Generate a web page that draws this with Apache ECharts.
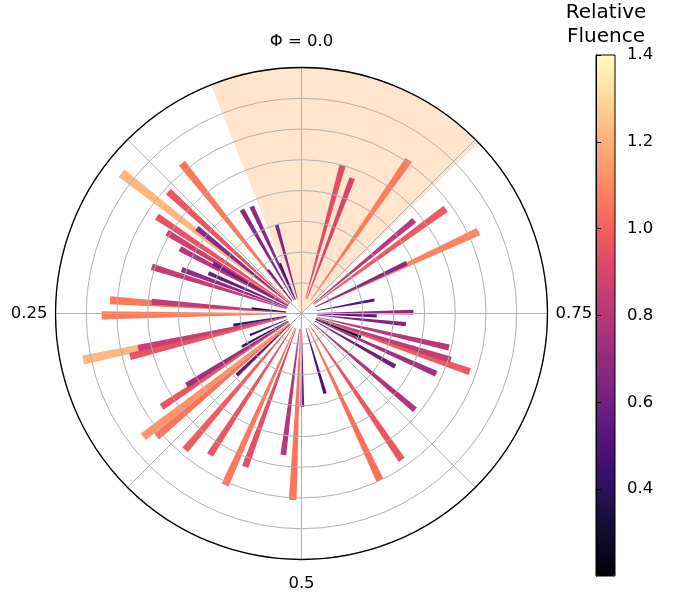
<!DOCTYPE html>
<html><head><meta charset="utf-8">
<script src="https://cdn.jsdelivr.net/npm/echarts@6/dist/echarts.min.js"></script>
<style>html,body{margin:0;padding:0;background:#fff}#c{width:684px;height:596px}</style>
</head><body><div id="c"></div><script>
// bar phase (0..1, counter-clockwise from top), bar outer radius, relative fluence
const phases = [
  0.1446, 0.107, 0.132, 0.156, 0.164, 0.172, 0.141, 0.202, 0.194, 0.168,
  0.185, 0.239, 0.2375, 0.2515, 0.233, 0.083, 0.0694, 0.0435, 0.0644, 0.104,
  0.957, 0.943, 0.903, 0.850, 0.860, 0.819, 0.821, 0.779, 0.752, 0.745,
  0.734, 0.714, 0.697, 0.702, 0.683, 0.668, 0.638, 0.690, 0.5956, 0.570,
  0.5456, 0.5014, 0.4925, 0.3553, 0.362, 0.3436, 0.339, 0.3875, 0.4086, 0.4333,
  0.444, 0.4797, 0.2834, 0.289, 0.2834, 0.2767, 0.3306, 0.313, 0.371
];
const lengths = [
  7.42, 6.25, 5.87, 5.66, 5.10, 4.48, 4.39, 5.10, 4.15, 3.30,
  3.30, 6.24, 4.89, 6.50, 1.63, 3.89, 3.84, 2.99, 1.78, 1.79,
  5.01, 4.70, 6.09, 5.80, 4.76, 6.34, 3.79, 2.41, 3.64, 2.45,
  3.41, 4.92, 5.79, 5.08, 4.80, 3.50, 4.84, 2.08, 5.77, 5.99,
  2.71, 3.04, 6.07, 6.52, 6.18, 5.47, 4.41, 5.83, 5.48, 6.11,
  5.31, 4.64, 7.26, 5.75, 5.43, 2.25, 2.22, 1.82, 2.91
];
const fluence = [
  1.22, 1.06, 0.97, 0.96, 0.87, 0.80, 0.68, 0.84, 0.70, 0.60,
  0.58, 1.06, 0.84, 1.07, 0.38, 0.68, 0.68, 0.66, 0.42, 0.58,
  0.93, 0.90, 1.07, 0.98, 0.82, 1.09, 0.68, 0.50, 0.68, 0.55,
  0.65, 0.80, 0.98, 0.84, 0.74, 0.58, 0.78, 0.32, 0.97, 1.04,
  0.48, 0.60, 1.05, 1.13, 1.05, 0.96, 0.74, 0.99, 0.97, 1.06,
  0.94, 0.80, 1.22, 0.96, 0.86, 0.45, 0.42, 0.45, 0.55
];
const angleTickLabels = {0: 'Φ = 0.0', 0.25: '0.25', 0.5: '0.5', 0.75: '0.75'};
const colorbarTicks = [0.4, 0.6, 0.8, 1.0, 1.2, 1.4];
const colorbarTitle = ['Relative', 'Fluence'];
const shadeRange = [-0.128, 0.06];
const fluenceRange = [0.2, 1.4];
const radiusMax = 8;
const barBase = 0.5;
const barWidth = 0.0065;
const magma = ['#000004','#0b0924','#140e36','#251255','#3b0f70','#51127c','#641a80','#782281','#8c2981','#a1307e','#b73779','#ca3e72','#de4968','#ed5a5f','#f7705c','#fc8961','#fe9f6d','#feb77e','#fecf92','#fde7a9','#fcfdbf'];

const FONT = 'DejaVu Sans';
const idx = phases.map((_, i) => i).sort((a, b) => lengths[b] - lengths[a]);
const barData = idx.map(i => [lengths[i], phases[i], fluence[i]]);

const chart = echarts.init(document.getElementById('c'), null, {renderer: 'canvas'});
chart.setOption({
  animation: false,
  backgroundColor: '#fff',
  graphic: [
    {type: 'text', x: 606, y: 13, style: {text: colorbarTitle[0], x: 0, y: 0, textAlign: 'center', textVerticalAlign: 'middle', fill: '#000', font: '20px "DejaVu Sans"'}},
    {type: 'text', x: 606, y: 37, style: {text: colorbarTitle[1], x: 0, y: 0, textAlign: 'center', textVerticalAlign: 'middle', fill: '#000', font: '20px "DejaVu Sans"'}}
  ],
  polar: {center: [301.5, 313.5], radius: 246},
  angleAxis: {
    type: 'value', min: 0, max: 1, interval: 0.125, startAngle: 90, clockwise: false, z: 10,
    axisLine: {show: true, lineStyle: {color: '#000', width: 1.3}},
    axisTick: {show: false},
    splitLine: {show: true, lineStyle: {color: '#b0b0b0', width: 1}},
    axisLabel: {
      show: true, margin: 8, color: '#000', fontFamily: FONT, fontSize: 16.5,
      formatter: v => {
        const key = Math.round(v * 1000) / 1000;
        if (key === 0) return '{t|' + angleTickLabels[0] + '}';
        if (key === 0.5) return '{b|' + angleTickLabels[0.5] + '}';
        return angleTickLabels[key] || '';
      },
      rich: {
        t: {fontFamily: FONT, fontSize: 16.5, color: '#000', padding: [0, 0, 9, 0]},
        b: {fontFamily: FONT, fontSize: 16.5, color: '#000', padding: [8, 0, 0, 0]}
      }
    }
  },
  radiusAxis: {
    type: 'value', min: 0, max: radiusMax, interval: 1, z: 10,
    axisLine: {show: false}, axisTick: {show: false}, axisLabel: {show: false},
    splitLine: {show: true, lineStyle: {color: '#b0b0b0', width: 1}}
  },
  grid: {
    left: 596, top: 55, width: 19, height: 521, show: true,
    borderColor: '#000', borderWidth: 1, backgroundColor: 'transparent', z: 10
  },
  xAxis: {type: 'value', min: 0, max: 1, show: false, gridIndex: 0},
  yAxis: {
    type: 'value', gridIndex: 0, position: 'right', min: fluenceRange[0], max: fluenceRange[1], interval: 0.2, z: 10,
    axisLine: {show: true, lineStyle: {color: '#000', width: 1}},
    axisTick: {show: true, length: 5, lineStyle: {color: '#000'}},
    splitLine: {show: false},
    axisLabel: {
      show: true, margin: 12, color: '#000', fontFamily: FONT, fontSize: 16.5, showMinLabel: false,
      formatter: v => colorbarTicks.some(t => Math.abs(t - v) < 1e-6) ? v.toFixed(1) : ''
    }
  },
  visualMap: {
    type: 'continuous', min: fluenceRange[0], max: fluenceRange[1], dimension: 2, seriesIndex: [1],
    left: 596, top: 55, itemWidth: 19, itemHeight: 521, padding: 0, calculable: false,
    showLabel: false, text: null, orient: 'vertical', inRange: {color: magma}, hoverLink: false
  },
  series: [
    {
      type: 'custom', coordinateSystem: 'polar', z: 1, silent: true,
      data: [[radiusMax, shadeRange[0], shadeRange[1]]],
      renderItem: (params, api) => {
        const r = api.value(0), a0 = api.value(1), a1 = api.value(2);
        const pts = [api.coord([0, a0])];
        const n = 60;
        for (let k = 0; k <= n; k++) pts.push(api.coord([r, a0 + (a1 - a0) * k / n]));
        return {type: 'polygon', shape: {points: pts}, style: {fill: '#ffe5ce'}};
      }
    },
    {
      type: 'custom', coordinateSystem: 'polar', z: 2, silent: true,
      data: barData,
      renderItem: (params, api) => {
        const L = api.value(0), ph = api.value(1), h = barWidth / 2;
        const pts = [
          api.coord([barBase, ph - h]), api.coord([barBase, ph + h]),
          api.coord([L, ph + h]), api.coord([L, ph]), api.coord([L, ph - h])
        ];
        return {type: 'polygon', shape: {points: pts}, style: {fill: api.visual('color')}};
      }
    }
  ]
});
</script></body></html>
